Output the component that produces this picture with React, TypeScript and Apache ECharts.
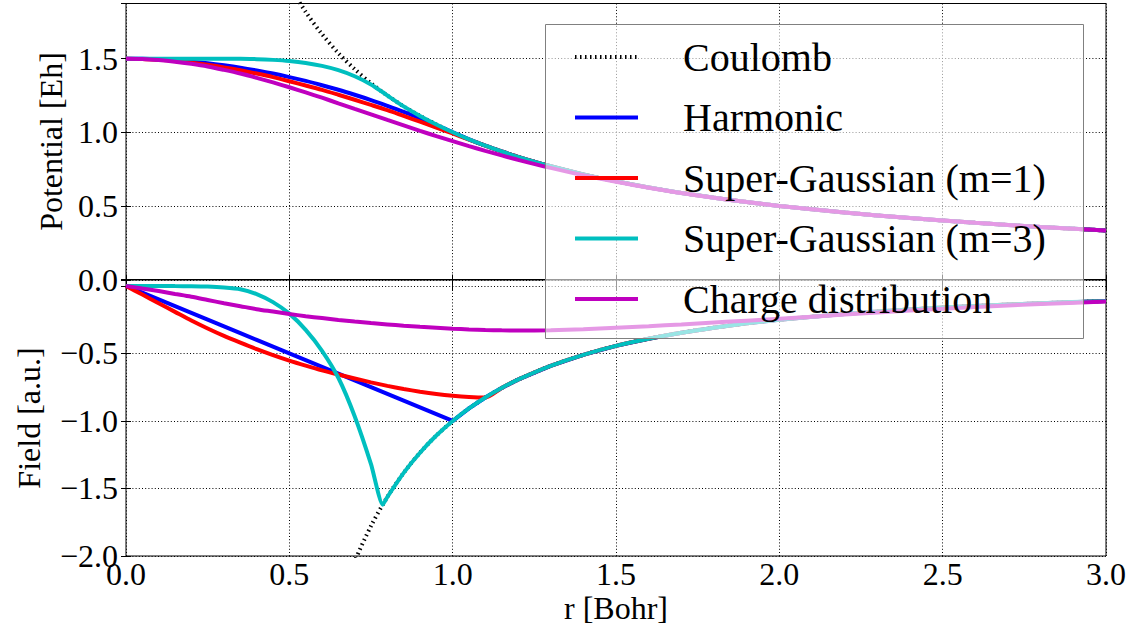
import { useEffect, useRef } from "react";
import * as echarts from "echarts";

// r grid [Bohr]
const R = [0, 0.05, 0.1, 0.15, 0.2, 0.25, 0.3, 0.35, 0.4, 0.45, 0.5, 0.55, 0.6, 0.65, 0.7, 0.75, 0.8, 0.85, 0.9, 0.95, 1.0, 1.05, 1.1, 1.15, 1.2, 1.3, 1.4, 1.5, 1.6, 1.7, 1.8, 1.9, 2.0, 2.2, 2.4, 2.6, 2.8, 3.0];
const R_SG3 = [0, 0.05, 0.1, 0.15, 0.2, 0.25, 0.3, 0.35, 0.4, 0.45, 0.5, 0.55, 0.6, 0.65, 0.7, 0.75, 0.786, 0.8, 0.85, 0.9, 0.95, 1.0, 1.05, 1.1, 1.15, 1.2, 1.3, 1.4, 1.5, 1.6, 1.7, 1.8, 1.9, 2.0, 2.2, 2.4, 2.6, 2.8, 3.0];

const COULOMB_POT = [null, null, null, null, null, null, null, null, null, null, 2.0, 1.818, 1.667, 1.538, 1.429, 1.333, 1.25, 1.176, 1.111, 1.053, 1.0, 0.952, 0.909, 0.87, 0.833, 0.769, 0.714, 0.667, 0.625, 0.588, 0.556, 0.526, 0.5, 0.455, 0.417, 0.385, 0.357, 0.333];
const COULOMB_FIELD = [null, null, null, null, null, null, null, null, null, null, null, null, null, -2.367, -2.041, -1.778, -1.563, -1.384, -1.235, -1.108, -1.0, -0.907, -0.826, -0.756, -0.694, -0.592, -0.51, -0.444, -0.391, -0.346, -0.309, -0.277, -0.25, -0.207, -0.174, -0.148, -0.128, -0.111];

const HARMONIC_POT = [1.5, 1.499, 1.495, 1.489, 1.48, 1.469, 1.455, 1.439, 1.42, 1.399, 1.375, 1.349, 1.32, 1.289, 1.255, 1.219, 1.18, 1.139, 1.095, 1.049, 1.0, 0.952, 0.909, 0.87, 0.833, 0.769, 0.714, 0.667, 0.625, 0.588, 0.556, 0.526, 0.5, 0.455, 0.417, 0.385, 0.357, 0.333];
const HARMONIC_FIELD = [0, -0.05, -0.1, -0.15, -0.2, -0.25, -0.3, -0.35, -0.4, -0.45, -0.5, -0.55, -0.6, -0.65, -0.7, -0.75, -0.8, -0.85, -0.9, -0.95, -1.0, -0.907, -0.826, -0.756, -0.694, -0.592, -0.51, -0.444, -0.391, -0.346, -0.309, -0.277, -0.25, -0.207, -0.174, -0.148, -0.128, -0.111];

const SG1_POT = [1.5, 1.498, 1.492, 1.484, 1.473, 1.459, 1.441, 1.421, 1.399, 1.375, 1.347, 1.318, 1.288, 1.255, 1.221, 1.186, 1.15, 1.111, 1.072, 1.032, 0.992, 0.95, 0.909, 0.87, 0.833, 0.769, 0.714, 0.667, 0.625, 0.588, 0.556, 0.526, 0.5, 0.455, 0.417, 0.385, 0.357, 0.333];
const SG1_FIELD = [0, -0.064, -0.128, -0.192, -0.256, -0.315, -0.37, -0.42, -0.468, -0.512, -0.553, -0.59, -0.625, -0.656, -0.685, -0.714, -0.74, -0.763, -0.783, -0.8, -0.813, -0.822, -0.826, -0.756, -0.694, -0.592, -0.51, -0.444, -0.391, -0.346, -0.309, -0.277, -0.25, -0.207, -0.174, -0.148, -0.128, -0.111];

const SG3_POT = [1.5, 1.5, 1.5, 1.5, 1.5, 1.5, 1.5, 1.499, 1.497, 1.492, 1.484, 1.471, 1.451, 1.422, 1.381, 1.325, 1.272, 1.25, 1.176, 1.111, 1.053, 1.0, 0.952, 0.909, 0.87, 0.833, 0.769, 0.714, 0.667, 0.625, 0.588, 0.556, 0.526, 0.5, 0.455, 0.417, 0.385, 0.357, 0.333];
const SG3_FIELD = [0, 0, 0, -0.001, -0.002, -0.005, -0.012, -0.025, -0.06, -0.12, -0.205, -0.325, -0.48, -0.68, -0.965, -1.32, -1.62, -1.563, -1.384, -1.235, -1.108, -1.0, -0.907, -0.826, -0.756, -0.694, -0.592, -0.51, -0.444, -0.391, -0.346, -0.309, -0.277, -0.25, -0.207, -0.174, -0.148, -0.128, -0.111];

const CHARGE_POT = [1.5, 1.498, 1.491, 1.48, 1.465, 1.447, 1.424, 1.399, 1.37, 1.339, 1.306, 1.271, 1.235, 1.197, 1.159, 1.122, 1.084, 1.047, 1.01, 0.974, 0.94, 0.906, 0.874, 0.843, 0.813, 0.758, 0.708, 0.664, 0.623, 0.587, 0.555, 0.526, 0.5, 0.455, 0.417, 0.385, 0.357, 0.333];
const CHARGE_FIELD = [0, -0.019, -0.038, -0.059, -0.08, -0.104, -0.128, -0.15, -0.172, -0.19, -0.208, -0.224, -0.238, -0.252, -0.264, -0.275, -0.285, -0.295, -0.303, -0.31, -0.317, -0.322, -0.326, -0.329, -0.33, -0.328, -0.321, -0.31, -0.298, -0.285, -0.271, -0.257, -0.243, -0.212, -0.182, -0.156, -0.134, -0.115];

const X_TICKS = [0, 0.5, 1.0, 1.5, 2.0, 2.5, 3.0];

const SERIF = "Liberation Serif";

type Curve = {
  name: string;
  color: string;
  dash: number[] | "solid";
  xs: number[];
  pot: (number | null)[];
  field: (number | null)[];
  smoothPot: number;
  smoothField: number | boolean;
};

const CURVES: Curve[] = [
  { name: "Coulomb", color: "#000000", dash: [1.5, 3.5], xs: R, pot: COULOMB_POT, field: COULOMB_FIELD, smoothPot: 0.3, smoothField: 0.3 },
  { name: "Harmonic", color: "#0000ff", dash: "solid", xs: R, pot: HARMONIC_POT, field: HARMONIC_FIELD, smoothPot: 0.3, smoothField: false },
  { name: "Super-Gaussian (m=1)", color: "#ff0000", dash: "solid", xs: R, pot: SG1_POT, field: SG1_FIELD, smoothPot: 0.3, smoothField: 0.25 },
  { name: "Super-Gaussian (m=3)", color: "#00bfbf", dash: "solid", xs: R_SG3, pot: SG3_POT, field: SG3_FIELD, smoothPot: 0.25, smoothField: 0.2 },
  { name: "Charge distribution", color: "#bf00bf", dash: "solid", xs: R, pot: CHARGE_POT, field: CHARGE_FIELD, smoothPot: 0.3, smoothField: 0.3 },
];

function pairs(xs: number[], ys: (number | null)[]) {
  const out: number[][] = [];
  xs.forEach((x, i) => {
    const y = ys[i];
    if (y !== null && y !== undefined) out.push([x, y]);
  });
  return out;
}

const tickFmt = (hideZero: boolean) => (v: number) => {
  const k = v / 0.5;
  if (Math.abs(k - Math.round(k)) > 1e-6) return "";
  if (hideZero && Math.abs(v) < 1e-9) return "";
  const s = Math.abs(v).toFixed(1);
  return v < -1e-9 ? "\u2212" + s : s;
};

const GRID_LINE = { show: true, lineStyle: { color: "#000", width: 1, type: [1, 2.2] } };
const TICK = { show: true, inside: true, length: 5, lineStyle: { color: "#000", width: 1 } };
const LINE_W = 4;
const FONT_CSS = `#potential-chart text, #potential-chart tspan { font-family: "Liberation Serif", serif !important; }`;

export default function App() {
  const ref = useRef<HTMLDivElement>(null);

  useEffect(() => {
    if (!ref.current) return;
    const chart = echarts.init(ref.current, undefined, { renderer: "svg" });

    const series: any[] = [];
    CURVES.forEach((c) => {
      const base = {
        name: c.name,
        type: "line",
        symbol: "none",
        clip: true,
        silent: true,
        z: 2,
        lineStyle: { color: c.color, width: LINE_W, type: c.dash, cap: "butt" },
        itemStyle: { color: c.color },
      };
      series.push({ ...base, xAxisIndex: 0, yAxisIndex: 0, smooth: c.smoothPot, data: pairs(c.xs, c.pot) });
      series.push({ ...base, xAxisIndex: 1, yAxisIndex: 1, smooth: c.smoothField, data: pairs(c.xs, c.field) });
    });

    const xBase = {
      type: "value",
      min: X_TICKS[0],
      max: X_TICKS[X_TICKS.length - 1],
      interval: 0.5,
      axisLine: { show: false },
    };

    const option: any = {
      animation: false,
      backgroundColor: "#ffffff",
      grid: [
        { left: 126, right: 30, top: 3.5, height: 276, show: true, borderColor: "#000", borderWidth: 1, backgroundColor: "transparent" },
        { left: 126, right: 30, top: 280, height: 276, show: true, borderColor: "#000", borderWidth: 1, backgroundColor: "transparent" },
      ],
      xAxis: [
        { ...xBase, gridIndex: 0, position: "bottom", axisLabel: { show: false }, axisTick: TICK, splitLine: GRID_LINE },
        {
          ...xBase,
          gridIndex: 1,
          position: "bottom",
          axisTick: TICK,
          splitLine: GRID_LINE,
          axisLabel: { fontFamily: SERIF, fontSize: 32, color: "#000", margin: 2, formatter: (v: number) => v.toFixed(1) },
          name: "r [Bohr]",
          nameLocation: "middle",
          nameGap: 36,
          nameTextStyle: { fontFamily: SERIF, fontSize: 32, color: "#000" },
        },
        { ...xBase, gridIndex: 0, position: "top", axisLabel: { show: false }, axisTick: TICK, splitLine: { show: false } },
        { ...xBase, gridIndex: 1, position: "top", axisLabel: { show: false }, axisTick: TICK, splitLine: { show: false } },
      ],
      yAxis: [
        {
          type: "value",
          gridIndex: 0,
          position: "left",
          min: 0,
          max: 1.875,
          interval: 0.5,
          axisLine: { show: false },
          axisTick: TICK,
          splitLine: GRID_LINE,
          axisLabel: { fontFamily: SERIF, fontSize: 32, color: "#000", margin: 8, formatter: tickFmt(false) },
          name: "Potential [Eh]",
          nameLocation: "middle",
          nameGap: 54,
          nameTextStyle: { fontFamily: SERIF, fontSize: 32, color: "#000" },
        },
        {
          type: "value",
          gridIndex: 1,
          position: "left",
          min: -2,
          max: 0.044,
          interval: 0.5,
          axisLine: { show: false },
          axisTick: TICK,
          splitLine: GRID_LINE,
          axisLabel: { fontFamily: SERIF, fontSize: 32, color: "#000", margin: 8, formatter: tickFmt(true) },
          name: "Field [a.u.]",
          nameLocation: "middle",
          nameGap: 81,
          nameTextStyle: { fontFamily: SERIF, fontSize: 32, color: "#000" },
        },
        { type: "value", gridIndex: 0, position: "right", min: 0, max: 1.875, interval: 0.5, axisLine: { show: false }, axisTick: TICK, splitLine: { show: false }, axisLabel: { show: false } },
        { type: "value", gridIndex: 1, position: "right", min: -2, max: 0.044, interval: 0.5, axisLine: { show: false }, axisTick: TICK, splitLine: { show: false }, axisLabel: { show: false } },
      ],
      legend: {
        orient: "vertical",
        left: 573,
        top: 35,
        padding: 0,
        z: 200,
        itemWidth: 63,
        itemHeight: 14,
        itemGap: 16.5,
        selectedMode: false,
        itemStyle: { opacity: 0 },
        textStyle: { fontFamily: SERIF, fontSize: 40, color: "#000", lineHeight: 44, padding: [0, 0, 0, 40] },
        data: CURVES.map((c) => ({
          name: c.name,
          itemStyle: { opacity: 0 },
          lineStyle: { color: c.color, width: LINE_W, type: c.dash, opacity: 1 },
        })),
      },
      graphic: {
        elements: [
          {
            type: "rect",
            z: 100,
            shape: { x: 545.5, y: 24.5, width: 538, height: 314 },
            style: { fill: "rgba(255,255,255,0.6)", stroke: "#808080", lineWidth: 1 },
            silent: true,
          },
        ],
      },
      series,
    };

    chart.setOption(option);
    return () => chart.dispose();
  }, []);

  return (
    <>
      <style>{FONT_CSS}</style>
      <div id="potential-chart" ref={ref} style={{ position: "absolute", left: 0, top: 0, width: 1136, height: 630 }} />
    </>
  );
}
